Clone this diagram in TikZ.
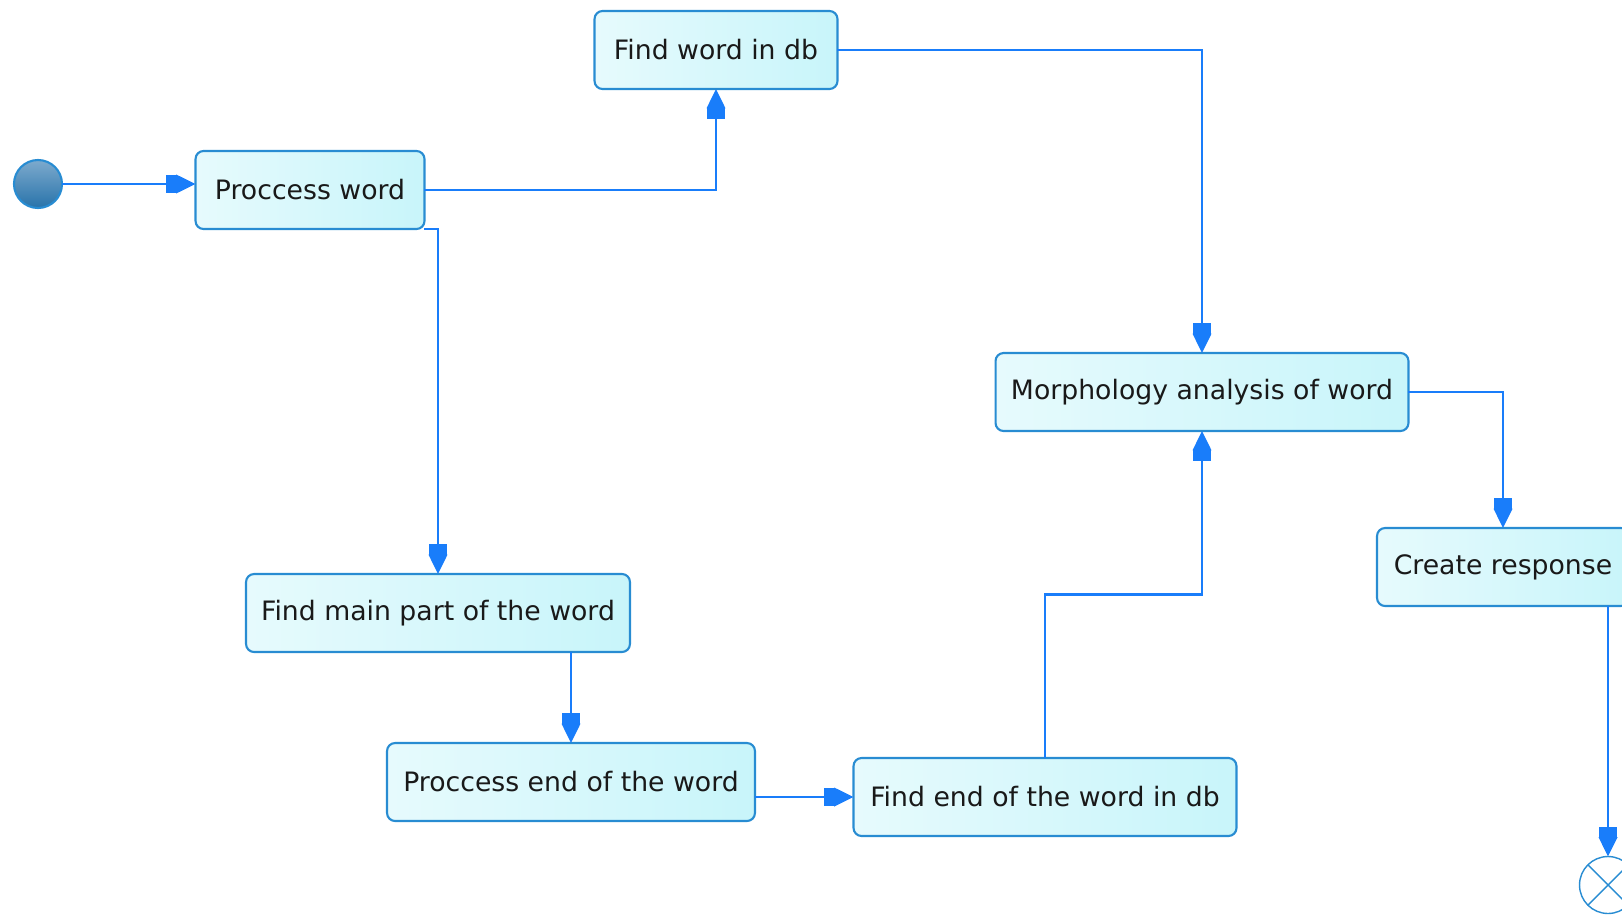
\documentclass[tikz,border=0pt]{standalone}
\usepackage{fontspec}
\setmainfont{DejaVu Sans}
\usepackage{tikz}
\usetikzlibrary{arrows.meta,calc}
\definecolor{flowblue}{RGB}{25,125,250}
\definecolor{boxline}{RGB}{40,140,210}
\definecolor{boxfill}{RGB}{200,245,250}
\definecolor{startlight}{RGB}{125,170,205}
\definecolor{startdark}{RGB}{40,115,170}

\begin{document}
\begin{tikzpicture}[x=0.02cm,y=-0.02cm,outer sep=0pt,inner sep=0pt]
        \tikzset{action/.style={align=center,shape=rectangle,rounded corners=0.16cm,minimum height=1.56cm,draw=boxline,line width=1.2pt,left color=white!55!boxfill,right color=boxfill,text=black!90,font=\fontsize{15.2}{17}\selectfont}}
        \tikzset{flow/.style={draw=flowblue,line width=1.2pt,-{Rectangle[length=6pt,width=10.5pt] Triangle[length=11pt,width=10.5pt]}}}
        \useasboundingbox (0,0) rectangle (1622,916);

        \node [circle,minimum size=0.96cm,draw=boxline,line width=1.2pt,top color=startlight,bottom color=startdark] (start) at (38,184) {};
        \node [action,minimum width=4.58cm] (pw) at (310,190) {Proccess word};
        \node [action,minimum width=4.86cm] (fw) at (716,50) {Find word in db};
        \node [action,minimum width=8.26cm] (morph) at (1202,392) {Morphology analysis of word};
        \node [action,minimum width=5.04cm] (resp) at (1503,567) {Create response};
        \node [action,minimum width=7.68cm] (fmain) at (438,613) {Find main part of the word};
        \node [action,minimum width=7.36cm] (pend) at (571,782) {Proccess end of the word};
        \node [action,minimum width=7.66cm] (fend) at (1045,797) {Find end of the word in db};
        \node [circle,minimum size=1.14cm,draw=boxline,line width=0.8pt,fill=white] (finish) at (1608,885) {};
        \draw [boxline,line width=0.8pt] (finish.north west) -- (finish.south east) (finish.north east) -- (finish.south west);

        \draw [flow] (start) -- (start -| pw.west);
        \draw [flow] (pw) -| (fw);
        \draw [flow] (pw.south east) -| (fmain);
        \draw [flow] (fw) -| (morph);
        \draw [flow] (morph) -| (resp);
        \draw [flow] (pend.north |- fmain.south) -- (pend.north);
        \draw [flow] (pend.east |- fend.west) -- (fend.west);
        \draw [flow] (fend.north) |- ($(fend.north)!.5!(morph.south)$) -| (morph.south);
        \draw [flow] (resp.south -| finish.north) -- (finish.north);

    \end{tikzpicture}
\end{document}
